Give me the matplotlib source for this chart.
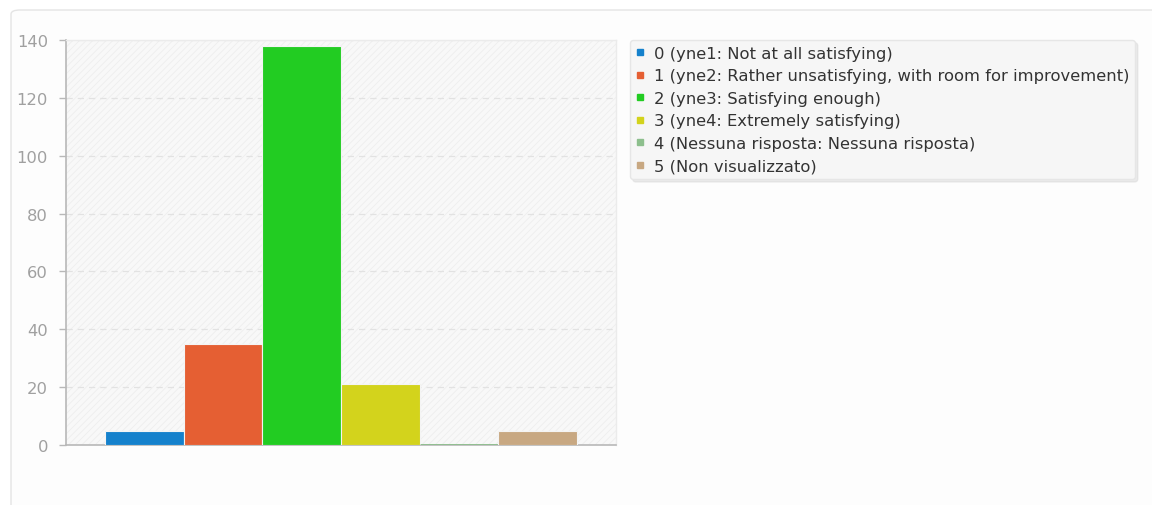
import matplotlib
matplotlib.use("Agg")
import matplotlib.pyplot as plt
from matplotlib.patches import FancyBboxPatch, Rectangle
from matplotlib.lines import Line2D

# Data
categories = ["0", "1", "2", "3", "4", "5"]
labels = [
    "0 (yne1: Not at all satisfying)",
    "1 (yne2: Rather unsatisfying, with room for improvement)",
    "2 (yne3: Satisfying enough)",
    "3 (yne4: Extremely satisfying)",
    "4 (Nessuna risposta: Nessuna risposta)",
    "5 (Non visualizzato)",
]
counts = [5, 35, 138, 21, 0, 5]
colors = ["#1581cc", "#e55f33", "#22cc22", "#d3d31c", "#8dbf8d", "#c8a882"]
y_ticks = [0, 20, 40, 60, 80, 100, 120, 140]

W, H = 1152, 506


def main():
    plt.rcParams["font.family"] = "DejaVu Sans"
    plt.rcParams["hatch.linewidth"] = 0.6
    fig = plt.figure(figsize=(W / 100, H / 100), dpi=100)
    fig.patch.set_facecolor("white")

    # outer panel with a faint border, behind everything
    panel = FancyBboxPatch((11 / W, -0.1), 1.2, (H - 11) / H + 0.1,
                           boxstyle="round,pad=0,rounding_size=0.008",
                           transform=fig.transFigure, facecolor="#fdfdfd",
                           edgecolor="#e4e4e4", linewidth=1.0, zorder=-10)
    fig.patches.append(panel)

    ax = fig.add_axes([66 / W, (H - 446) / H, 550 / W, 405 / H])
    ax.set_facecolor("none")

    # hatched plot background
    ax.add_patch(Rectangle((0, 0), 1, 1, transform=ax.transAxes,
                           facecolor="#f8f8f8", edgecolor="#eeeeee",
                           hatch="/////", linewidth=0, zorder=0))

    # thin light border between bars; empty bar keeps its own colour as a line
    edges = [c if v == 0 else "#f4f4f4" for c, v in zip(colors, counts)]
    widths = [2.0 if v == 0 else 0.8 for v in counts]
    x = range(len(categories))
    ax.bar(x, counts, width=1.0, color=colors, edgecolor=edges,
           linewidth=widths, zorder=3)

    ax.set_xlim(-1, 6)
    ax.set_ylim(0, 140)
    ax.set_yticks(y_ticks)
    ax.set_xticks([])
    ax.grid(axis="y", color="#e2e2e2", linestyle=(0, (5, 4)), linewidth=0.9, zorder=1)

    for side in ["top", "right"]:
        ax.spines[side].set_color("#ebebeb")
        ax.spines[side].set_linewidth(1.0)
    ax.spines["left"].set_color("#b8b8b8")
    ax.spines["bottom"].set_color("#b8b8b8")
    ax.spines["left"].set_linewidth(1.2)
    ax.spines["bottom"].set_linewidth(1.2)
    ax.tick_params(axis="y", colors="#b8b8b8", labelcolor="#a0a0a0",
                   labelsize=11.8, length=5, width=1.0, pad=8)

    handles = [Line2D([0], [0], marker="s", linestyle="none", markersize=4,
                      markerfacecolor=c, markeredgecolor=c) for c in colors]
    leg = fig.legend(handles, labels, loc="upper left",
                     bbox_to_anchor=(630 / W, 1 - 41 / H),
                     fontsize=11.8, frameon=True, fancybox=True,
                     shadow={"color": "#d8d8d8", "alpha": 0.5},
                     handlelength=0.5, handletextpad=0.6, labelspacing=0.46,
                     borderpad=0.35, borderaxespad=0)
    leg.get_frame().set_facecolor("#f6f6f6")
    leg.get_frame().set_edgecolor("#e6e6e6")
    leg.get_frame().set_alpha(1)
    for t in leg.get_texts():
        t.set_color("#333333")

    fig.savefig("out.png", dpi=100)


if __name__ == "__main__":
    main()
